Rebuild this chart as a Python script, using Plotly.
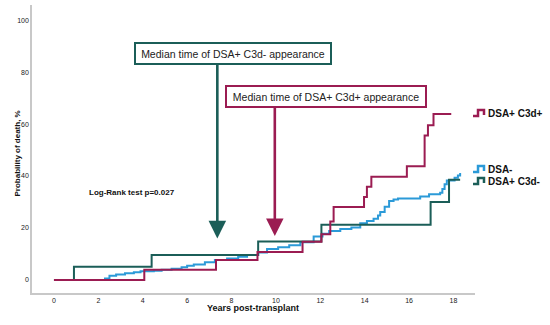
import plotly.graph_objects as go

# ---- data ----
c3dpos_t = [0, 4.07, 7.3, 9.17, 11.2, 12.05, 12.45, 12.6, 13.97, 14.1, 14.3, 15.9, 16.7, 16.85, 17.1, 17.9]
c3dpos_v = [0, 3.9, 7.7, 10.8, 14.7, 17.6, 22.5, 28.1, 31.9, 35.9, 39.7, 43.8, 55.6, 59.5, 63.9, 63.9]

c3dneg_t = [0, 0.9, 4.4, 9.2, 12.05, 16.97, 17.8, 18.3]
c3dneg_v = [0, 5.1, 9.6, 14.8, 21.3, 30.0, 38.6, 38.6]

dsaneg_t = [0, 2.3, 2.5, 2.8, 3.2, 3.6, 3.9, 4.5, 4.85, 5.3, 5.75, 6.0, 6.3, 6.8, 7.25, 7.8, 8.3, 8.7,
            9.2, 9.6, 10.1, 10.6, 11.1, 11.7, 12.1, 12.4, 12.9, 13.4, 13.8, 14.1, 14.4, 14.6, 14.7,
            14.9, 15.1, 15.3, 15.5, 16.5, 16.9, 17.4, 17.5, 17.6, 17.7, 18.05, 18.2, 18.3]
dsaneg_v = [0, 0.6, 1.6, 2.1, 2.6, 3.0, 3.4, 3.6, 3.9, 4.3, 4.9, 5.5, 6.0, 6.8, 7.7, 8.3, 8.9, 9.6,
            10.6, 11.9, 12.6, 13.4, 14.5, 16.7, 17.8, 18.9, 19.6, 20.2, 21.8, 22.7, 23.6, 24.8, 26.2,
            28.2, 30.4, 31.0, 31.4, 32.1, 33.0, 33.6, 35.0, 36.8, 38.3, 39.3, 40.2, 41.2]

x_ticks = [0, 2, 4, 6, 8, 10, 12, 14, 16, 18]
y_ticks = [0, 20, 40, 60, 80, 100]

MAG = "#9b1c52"
TEAL = "#1b5e58"
BLUE = "#2b9ad8"

fig = go.Figure()
fig.add_trace(go.Scatter(x=dsaneg_t, y=dsaneg_v, mode="lines", line=dict(color=BLUE, width=2, shape="hv"), showlegend=False))
fig.add_trace(go.Scatter(x=c3dneg_t, y=c3dneg_v, mode="lines", line=dict(color=TEAL, width=2, shape="hv"), showlegend=False))
fig.add_trace(go.Scatter(x=c3dpos_t, y=c3dpos_v, mode="lines", line=dict(color=MAG, width=2, shape="hv"), showlegend=False))

L, R, T, B = 32, 75, 5, 32
W, H = 550, 325
PW, PH = W - L - R, H - T - B

def px(xp):
    return (xp - L) / PW

def py(yp):
    return (H - B - yp) / PH

annotations = []
# median boxes + arrows
annotations.append(dict(x=7.36, y=16, ax=7.36, ay=83.5, xref="x", yref="y", axref="x", ayref="y",
                        showarrow=True, arrowhead=2, arrowsize=1.35, arrowwidth=2.6, arrowcolor=TEAL, text=""))
annotations.append(dict(x=9.95, y=16.9, ax=9.95, ay=67.0, xref="x", yref="y", axref="x", ayref="y",
                        showarrow=True, arrowhead=2, arrowsize=1.35, arrowwidth=2.6, arrowcolor=MAG, text=""))
annotations.append(dict(x=8.07, y=87.0, xref="x", yref="y", showarrow=False,
                        text="Median time of DSA+ C3d- appearance",
                        font=dict(family="Liberation Sans", size=10.5, color="#222"),
                        bordercolor=TEAL, borderwidth=2, borderpad=3, bgcolor="white", width=188, height=13))
annotations.append(dict(x=12.26, y=70.6, xref="x", yref="y", showarrow=False,
                        text="Median time of DSA+ C3d+ appearance",
                        font=dict(family="Liberation Sans", size=10.5, color="#222"),
                        bordercolor=MAG, borderwidth=2, borderpad=3, bgcolor="white", width=192, height=13))
annotations.append(dict(x=3.5, y=33.5, xref="x", yref="y", showarrow=False,
                        text="<b>Log-Rank test p=0.027</b>",
                        font=dict(family="Arial", size=8, color="#111")))
# axis titles
annotations.append(dict(x=px(10), y=py(154), xref="paper", yref="paper", showarrow=False, textangle=-90,
                        text="<b>Probability of death, %</b>", font=dict(family="Arial", size=8, color="#111")))
annotations.append(dict(x=px(253), y=py(315), xref="paper", yref="paper", showarrow=False,
                        text="<b>Years post-transplant</b>", font=dict(family="Arial", size=9, color="#111")))

# custom legend
legend_items = [("DSA+ C3d+", MAG, 113), ("DSA-", BLUE, 169), ("DSA+ C3d-", TEAL, 181)]
shapes = []
for name, col, yc in legend_items:
    annotations.append(dict(x=px(486), y=py(yc), xref="paper", yref="paper", xanchor="left", showarrow=False,
                            text="<b>" + name + "</b>", font=dict(family="Arial", size=10, color="#111")))
    path = "M {:.4f},{:.4f} L {:.4f},{:.4f} L {:.4f},{:.4f} L {:.4f},{:.4f} L {:.4f},{:.4f}".format(
        px(473), py(yc + 3), px(478), py(yc + 3), px(478), py(yc - 3), px(484), py(yc - 3), px(484), py(yc + 2))
    shapes.append(dict(type="path", path=path, xref="paper", yref="paper", line=dict(color=col, width=2.5)))

fig.update_layout(
    width=W, height=H,
    margin=dict(l=L, r=R, t=T, b=B),
    paper_bgcolor="white", plot_bgcolor="white",
    showlegend=False,
    annotations=annotations, shapes=shapes,
    xaxis=dict(range=[-0.99, 18.97], tickvals=x_ticks, ticktext=[str(v) for v in x_ticks],
               showgrid=False, zeroline=False, showline=True, linecolor="#c8c8c8", linewidth=1.5,
               ticks="", automargin=False, tickfont=dict(family="Arial", size=7, color="#222")),
    yaxis=dict(range=[-5, 105.8], tickvals=y_ticks, ticktext=[str(v) for v in y_ticks],
               showgrid=False, zeroline=False, showline=True, linecolor="#c8c8c8", linewidth=1.5,
               ticks="", automargin=False, tickfont=dict(family="Arial", size=7, color="#222")),
)

fig.write_html("out.html", config={"displayModeBar": False},
               post_script="document.body.style.margin='0';document.body.style.padding='0';")
